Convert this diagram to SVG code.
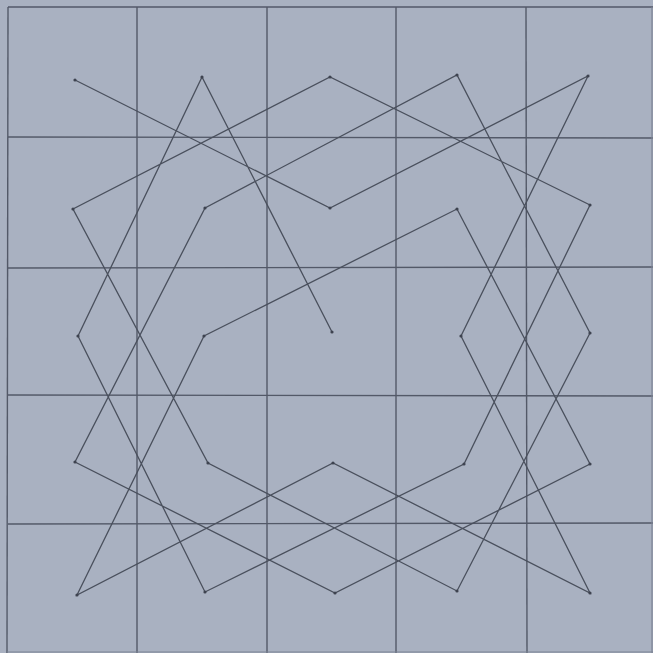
<svg xmlns="http://www.w3.org/2000/svg" width="653" height="653" viewBox="0 0 653 653">
<style>
.grid{stroke:#535968;stroke-width:1.4;fill:none}
.faint{stroke:#7d8494;stroke-width:1.2;fill:none}
.pat{stroke:#4a505d;stroke-width:1.3;fill:none;stroke-linejoin:miter;stroke-linecap:round}
.dot{fill:#3e4350}
</style>
<rect x="0" y="0" width="653" height="653" fill="#a9b1c1"/>
<g id="grid">
<g class="grid">
<line x1="8" y1="7" x2="653" y2="7"/>
<line x1="8" y1="137" x2="653" y2="138"/>
<line x1="8" y1="268" x2="653" y2="267"/>
<line x1="8" y1="395" x2="653" y2="396"/>
<line x1="8" y1="524" x2="653" y2="523"/>
<line x1="8" y1="7" x2="7" y2="653"/>
<line x1="137" y1="7" x2="137" y2="653"/>
<line x1="267" y1="7" x2="267" y2="653"/>
<line x1="396" y1="7" x2="396" y2="653"/>
<line x1="526" y1="7" x2="527" y2="653"/>
</g>
<g class="faint">
<line x1="652" y1="7" x2="652" y2="653"/>
<line x1="7" y1="652" x2="653" y2="652"/>
</g>
</g>
<g id="pattern">
<path class="pat" d="M75,80 L330,208 L588,76 L461,336 L590,593 L333,463 L77,595 L204,336 L457,209 L590,464 L335,593 L75,462 L205,208 L457,75 L590,333 L457,591 L208,463 L73,209 L330,77 L590,205 L464,464 L205,592 L78,336 L202,77 L332,332"/>
</g>
<g id="points" class="dot">
<circle cx="75" cy="80" r="1.6"/><circle cx="330" cy="208" r="1.6"/><circle cx="588" cy="76" r="1.6"/>
<circle cx="461" cy="336" r="1.6"/><circle cx="590" cy="593" r="1.6"/><circle cx="333" cy="463" r="1.6"/>
<circle cx="77" cy="595" r="1.6"/><circle cx="204" cy="336" r="1.6"/><circle cx="457" cy="209" r="1.6"/>
<circle cx="590" cy="464" r="1.6"/><circle cx="335" cy="593" r="1.6"/><circle cx="75" cy="462" r="1.6"/>
<circle cx="205" cy="208" r="1.6"/><circle cx="457" cy="75" r="1.6"/><circle cx="590" cy="333" r="1.6"/>
<circle cx="457" cy="591" r="1.6"/><circle cx="208" cy="463" r="1.6"/><circle cx="73" cy="209" r="1.6"/>
<circle cx="330" cy="77" r="1.6"/><circle cx="590" cy="205" r="1.6"/><circle cx="464" cy="464" r="1.6"/>
<circle cx="205" cy="592" r="1.6"/><circle cx="78" cy="336" r="1.6"/><circle cx="202" cy="77" r="1.6"/>
<circle cx="332" cy="332" r="1.6"/>
</g>
</svg>
